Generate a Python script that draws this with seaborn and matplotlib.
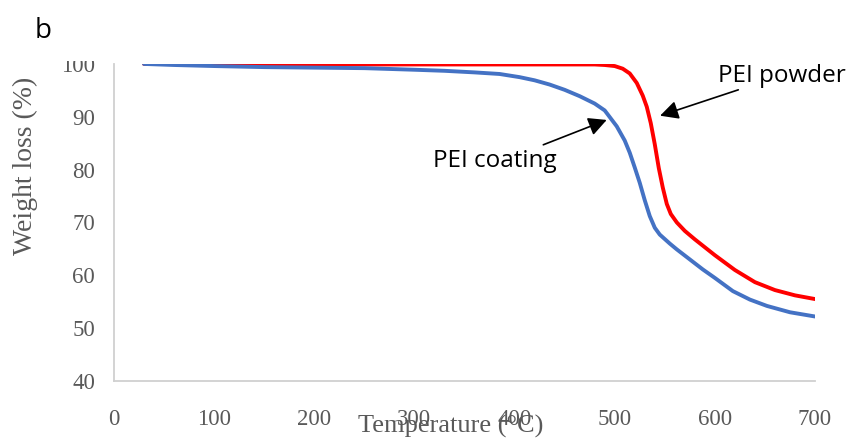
import matplotlib
matplotlib.use("Agg")
import matplotlib.pyplot as plt
from matplotlib.patches import Rectangle
import seaborn as sns
import pandas as pd

# Data
powder_temp = [30, 100, 200, 300, 400, 470, 480, 490, 500, 508, 515, 522, 528, 532, 536, 540,
               544, 548, 552, 556, 562, 570, 580, 590, 600, 620, 640, 660, 680, 700]
powder_wt = [100, 100, 99.9, 99.9, 99.9, 99.9, 99.9, 99.8, 99.6, 99.1, 98.2, 96.4, 94.0, 91.9, 88.8, 84.8,
             80.3, 76.6, 73.5, 71.6, 70.0, 68.4, 66.8, 65.3, 63.8, 61.0, 58.7, 57.2, 56.2, 55.5]

coating_temp = [30, 60, 100, 150, 200, 250, 300, 330, 360, 385, 405, 420, 435, 450, 465, 480, 490,
                502, 510, 515, 520, 525, 530, 535, 540, 545, 555, 562, 575, 588, 600, 618, 635,
                652, 675, 700]
coating_wt = [100, 99.8, 99.6, 99.4, 99.3, 99.2, 98.9, 98.7, 98.4, 98.1, 97.5, 96.9, 96.1, 95.1, 93.9, 92.5,
              91.2, 88.2, 85.5, 83.2, 80.4, 77.5, 74.2, 71.2, 69.0, 67.7, 66.0, 64.9, 63.0, 61.1, 59.5,
              57.0, 55.4, 54.2, 53.0, 52.2]

x_ticks = [0, 100, 200, 300, 400, 500, 600, 700]
y_ticks = [40, 50, 60, 70, 80, 90, 100]

df = pd.concat([
    pd.DataFrame({"T": powder_temp, "W": powder_wt, "s": "PEI powder"}),
    pd.DataFrame({"T": coating_temp, "W": coating_wt, "s": "PEI coating"}),
])

sns.set_style("white")
serif = ["Liberation Serif", "DejaVu Serif"]
sans = ["Open Sans", "DejaVu Sans"]
grey = "#595959"

fig = plt.figure(figsize=(8.57, 4.44), dpi=100)
ax = fig.add_axes([0.133, 0.142, 0.818, 0.714])

sns.lineplot(data=df, x="T", y="W", hue="s", hue_order=["PEI powder", "PEI coating"],
             palette={"PEI powder": "#FF0000", "PEI coating": "#4472C4"},
             linewidth=2.8, legend=False, ax=ax, sort=True, estimator=None)

ax.set_xlim(0, 700)
ax.set_ylim(40, 100)
ax.set_xticks(x_ticks)
ax.set_yticks(y_ticks)
ax.set_xticklabels([str(v) for v in x_ticks], family=serif, fontsize=16.5, color=grey)
ax.set_yticklabels([str(v) for v in y_ticks], family=serif, fontsize=16.5, color=grey)
ax.tick_params(axis="x", length=0, pad=20)
ax.tick_params(axis="y", length=0, pad=13.5)

for s in ["top", "right"]:
    ax.spines[s].set_visible(False)
for s in ["left", "bottom"]:
    ax.spines[s].set_color("#D0D0D0")
    ax.spines[s].set_linewidth(1.3)

ax.set_xlabel("")
ax.set_ylabel("")
fig.text(450.5 / 857, 1 - 433 / 444, "Temperature (°C)", family=serif, fontsize=19,
         color=grey, ha="center", va="baseline")
fig.text(25 / 857, 1 - 166 / 444, "Weight loss (%)", family=serif, fontsize=20,
         color=grey, ha="center", va="center", rotation=90)

arrow = dict(arrowstyle="-|>,head_length=0.55,head_width=0.28", color="black", lw=1.2,
             mutation_scale=20, shrinkA=0, shrinkB=0)
ax.annotate("", xy=(545.3, 90.2), xytext=(623.4, 95.1), arrowprops=arrow)
ax.annotate("", xy=(492, 89.4), xytext=(428.7, 84.7), arrowprops=arrow)
ax.text(603, 96.6, "PEI powder", fontsize=17.5, family=sans, color="black",
        va="baseline", ha="left")
ax.text(318.5, 80.5, "PEI coating", fontsize=17.5, family=sans, color="black",
        va="baseline", ha="left")

fig.text(35 / 857, 1 - 38 / 444, "b", fontsize=20, family=sans, color="black",
         va="baseline", ha="left")

# the reference's top tick label is partly cut off at the top of the plot area
fig.add_artist(Rectangle((55 / 857, 1 - 61.5 / 444), 50 / 857, 15 / 444,
                         transform=fig.transFigure, facecolor="white", edgecolor="none",
                         zorder=10))

fig.savefig("out.png", dpi=100)
